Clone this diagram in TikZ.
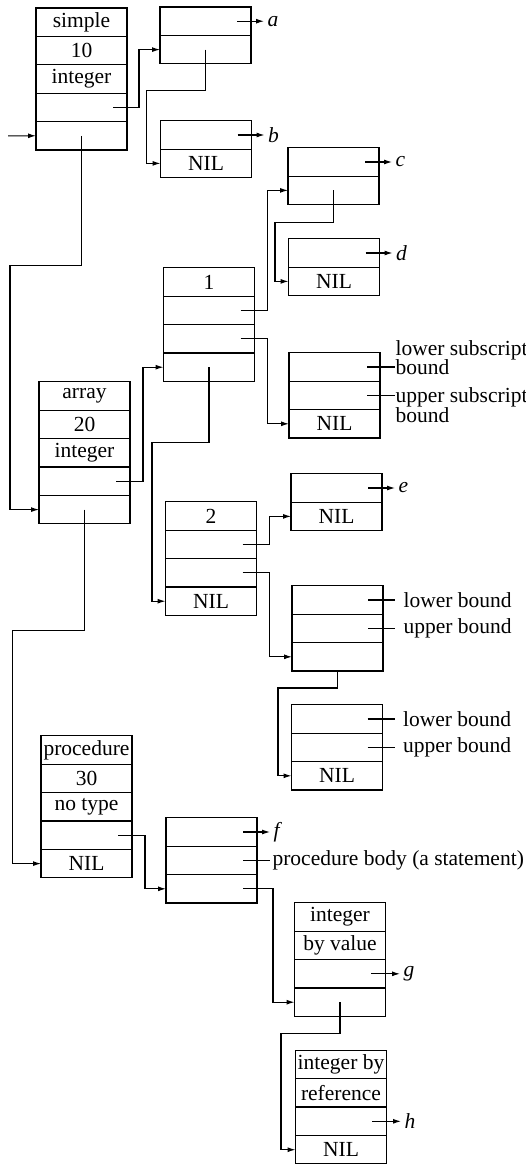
\documentclass[tikz,border=0pt]{standalone}
\usepackage{fontspec}
\setmainfont{Liberation Serif}
\usepackage{tikz}
\usetikzlibrary{arrows.meta,positioning,calc}
\newcommand\recfont{\fontsize{21.5}{19.5}\selectfont}

\begin{document}
\begin{tikzpicture}[x=1pt,y=-1pt,
  cell/.style={draw,line width=1.3pt,minimum width=91pt,minimum height=28.4pt,inner sep=0pt,outer sep=0pt,font=\recfont},
  ptr/.style={-{Latex[length=8pt,width=5pt]},line width=1.1pt},
  wire/.style={line width=1.1pt},
  tag/.style={right,inner sep=3pt,font=\recfont\itshape},
  note/.style={right,inner sep=2pt,align=left,font=\recfont}
]
\useasboundingbox (0,0) rectangle (526,1164);
% simple variable
\node[cell] (S1) at (81.5,22.2) {simple};
\node[cell,below=0pt of S1] (S2) {10};
\node[cell,below=0pt of S2] (S3) {integer};
\node[cell,below=0pt of S3] (S4) {};
\node[cell,below=0pt of S4] (S5) {};
\node[cell] (A1) at (205.5,21.2) {};
\node[cell,below=0pt of A1] (A2) {};
\node[cell] (B1) at (206,135) {};
\node[cell,below=0pt of B1] (B2) {NIL};
% array
\node[cell] (R1) at (84.5,396) {array};
\node[cell,below=0pt of R1] (R2) {20};
\node[cell,below=0pt of R2] (R3) {integer};
\node[cell,below=0pt of R3] (R4) {};
\node[cell,below=0pt of R4] (R5) {};
\node[cell] (U1) at (209,282) {1};
\node[cell,below=0pt of U1] (U2) {};
\node[cell,below=0pt of U2] (U3) {};
\node[cell,below=0pt of U3] (U4) {};
\node[cell] (C1) at (333.5,162) {};
\node[cell,below=0pt of C1] (C2) {};
\node[cell] (D1) at (334,253) {};
\node[cell,below=0pt of D1] (D2) {NIL};
\node[cell] (K1) at (334.5,367) {};
\node[cell,below=0pt of K1] (K2) {};
\node[cell,below=0pt of K2] (K3) {NIL};
\node[cell] (V1) at (211,516) {2};
\node[cell,below=0pt of V1] (V2) {};
\node[cell,below=0pt of V2] (V3) {};
\node[cell,below=0pt of V3] (V4) {NIL};
\node[cell] (E1) at (336.5,488) {};
\node[cell,below=0pt of E1] (E2) {NIL};
\node[cell] (M1) at (337.5,600) {};
\node[cell,below=0pt of M1] (M2) {};
\node[cell,below=0pt of M2] (M3) {};
\node[cell] (N1) at (337,719) {};
\node[cell,below=0pt of N1] (N2) {};
\node[cell,below=0pt of N2] (N3) {NIL};
% procedure
\node[cell] (P1) at (86.5,750) {procedure};
\node[cell,below=0pt of P1] (P2) {30};
\node[cell,below=0pt of P2] (P3) {no type};
\node[cell,below=0pt of P3] (P4) {};
\node[cell,below=0pt of P4] (P5) {NIL};
\node[cell] (F1) at (211.5,832) {};
\node[cell,below=0pt of F1] (F2) {};
\node[cell,below=0pt of F2] (F3) {};
\node[cell] (G1) at (340,917) {integer};
\node[cell,below=0pt of G1] (G2) {by value};
\node[cell,below=0pt of G2] (G3) {};
\node[cell,below=0pt of G3] (G4) {};
\node[cell] (H1) at (341,1064.5) {integer by};
\node[cell,below=0pt of H1] (H2) {reference};
\node[cell,below=0pt of H2] (H3) {};
\node[cell,below=0pt of H3] (H4) {NIL};

% links
\coordinate (in) at (8,135.8);
\draw[ptr] (in) -- (S5.west);
\draw[ptr] ($(S4.east)+(-14,0)$) -- ++(26,0) |- (A2.west);
\draw[ptr] (A2.center) |- ++(-59,41) |- (B2.west);
\draw[ptr] (S5.center) |- ++(-71.5,130) |- (R5.west);
\draw[ptr] ($(R4.east)+(-14,0)$) -- ++(27,0) |- (U4.west);
\draw[ptr] ($(U2.east)+(-14,0)$) -- ++(27,0) |- (C2.west);
\draw[ptr] (C2.center) |- ++(-58.5,32) |- (D2.west);
\draw[ptr] ($(U3.east)+(-14,0)$) -- ++(27,0) |- (K3.west);
\draw[ptr] (U4.center) |- ++(-57,75) |- (V4.west);
\draw[ptr] ($(V2.east)+(-14,0)$) -- ++(27,0) |- (E2.west);
\draw[ptr] ($(V3.east)+(-14,0)$) -- ++(27,0) |- (M3.west);
\draw[ptr] (M3.south) |- ++(-59.5,17) |- (N3.west);
\draw[ptr] (R5.center) |- ++(-72,121) |- (P5.west);
\draw[ptr] ($(P4.east)+(-14,0)$) -- ++(27,0) |- (F3.west);
\draw[ptr] ($(F3.east)+(-14,0)$) -- ++(30,0) |- (G4.west);
\draw[ptr] (G4.center) |- ++(-59,31) |- (H4.west);

% values
\draw[ptr] ($(A1.east)+(-14,0)$) -- ++(27,0) node[tag] (ta) {a};
\draw[ptr] ($(B1.east)+(-14,0)$) -- ++(27,0) node[tag] (tb) {b};
\draw[ptr] ($(C1.east)+(-14,0)$) -- ++(27,0) node[tag] (tc) {c};
\draw[ptr] ($(D1.east)+(-14,0)$) -- ++(27,0) node[tag] (td) {d};
\draw[ptr] ($(E1.east)+(-14,0)$) -- ++(27,0) node[tag] (te) {e};
\draw[ptr] ($(F1.east)+(-14,0)$) -- ++(27,0) node[tag] (tf) {f};
\draw[ptr] ($(G3.east)+(-14.5,0)$) -- ++(29,0) node[tag] (tg) {g};
\draw[ptr] ($(H3.east)+(-14.5,0)$) -- ++(29,0) node[tag] (th) {h};
\draw[wire] ($(K1.east)+(-13,0)$) -- ++(28,0) node[note,yshift=9.6pt,inner sep=0pt] (lsb) {lower subscript\\bound};
\draw[wire] ($(K2.east)+(-13,0)$) -- ++(28,0) node[note,yshift=-9.6pt,inner sep=0pt] (usb) {upper subscript\\bound};
\draw[wire] ($(M1.east)+(-15,0)$) -- ++(27,0) node[note,xshift=6pt] (lb1) {lower bound};
\draw[wire] ($(M2.east)+(-15,0)$) -- ++(27,0) node[note,xshift=6pt] (ub1) {upper bound};
\draw[wire] ($(N1.east)+(-15,0)$) -- ++(27,0) node[note,xshift=6pt] (lb2) {lower bound};
\draw[wire] ($(N2.east)+(-15,0)$) -- ++(27,0) node[note,xshift=6pt] (ub2) {upper bound};
\draw[wire] ($(F2.east)+(-14,0)$) -- ++(27,0) node[note] (pb) {procedure body (a statement)};
\end{tikzpicture}
\end{document}
